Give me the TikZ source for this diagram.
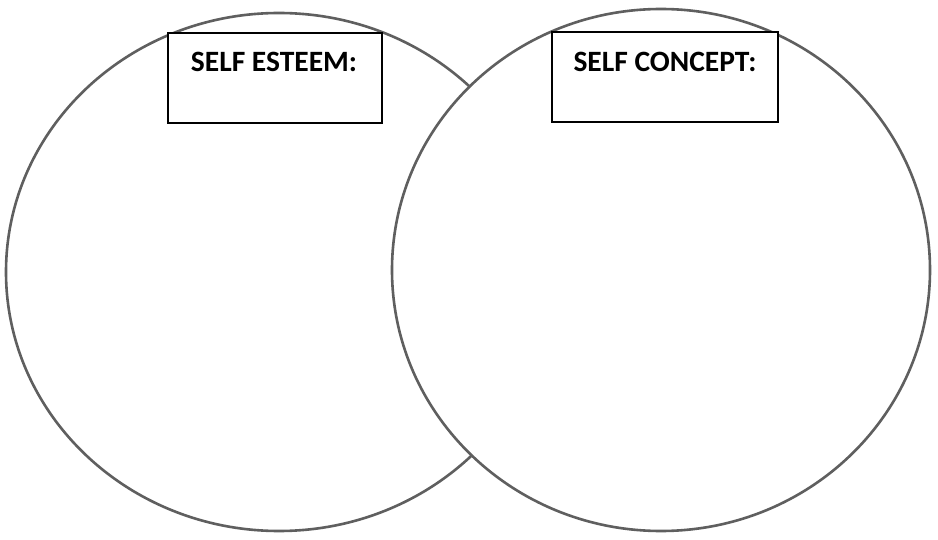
\documentclass[tikz,border=0pt]{standalone}
\usepackage{fontspec}
\setmainfont{Carlito}
\begin{document}
\begin{tikzpicture}[x=1pt,y=-1pt,
  ring/.style={draw={rgb,255:red,95;green,95;blue,95}, line width=2.6pt},
  labelbox/.style={draw=black, line width=1.1pt, fill=white},
  labeltext/.style={font=\fontsize{29.5}{32}\selectfont\bfseries, anchor=base, inner sep=0pt}]
\useasboundingbox (0,0) rectangle (938,540);
\fill[white] (0,0) rectangle (938,540);
% circles
\draw[ring] (279,272) ellipse [x radius=273, y radius=259];
\draw[ring, fill=white] (661,270) ellipse [x radius=269, y radius=261];
% boxes
\draw[labelbox] (168,33) rectangle (382,123);
\draw[labelbox] (552,32) rectangle (778,122);
\node[labeltext] (esteem) at (274,72) {SELF ESTEEM:};
\node[labeltext] (concept) at (665,72) {SELF CONCEPT:};
\end{tikzpicture}
\end{document}
